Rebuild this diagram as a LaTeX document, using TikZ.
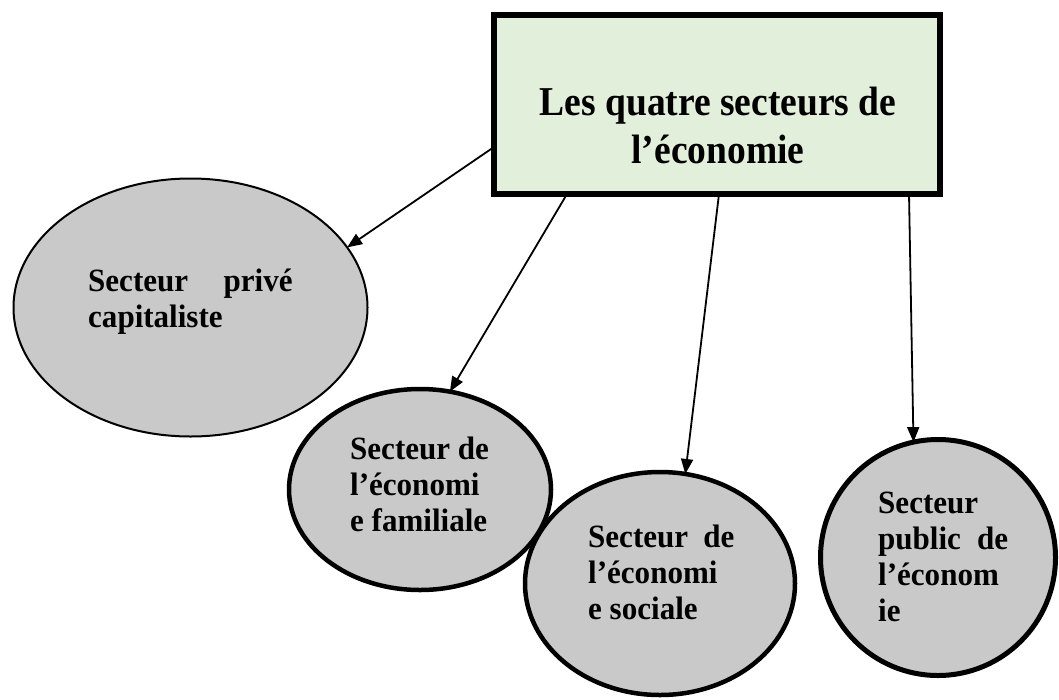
\documentclass[tikz,border=0pt]{standalone}
\usepackage{fontspec}
\setmainfont{Liberation Serif}
\usetikzlibrary{shapes.geometric,arrows.meta}
\definecolor{secgray}{HTML}{C9C9C9}
\definecolor{boxgreen}{HTML}{E2EFDA}
\newcommand\sectfont{\bfseries\fontsize{32.5}{36}\selectfont}
\newcommand\titfont{\bfseries\fontsize{41}{48}\selectfont}
\newcommand\sectbox[2]{\scalebox{0.955}[1]{\parbox[t]{#1}{\sectfont #2}}}
\begin{document}
\begin{tikzpicture}[x=1pt,y=-1pt,
  sector/.style={ellipse, draw=black, fill=secgray, inner sep=0pt, outer sep=0pt, line width=4.5pt},
  conn/.style={line width=1.8pt, -{Triangle[length=15pt,width=12pt]}},
  lbl/.style={anchor=base west, inner sep=0pt}
]
\useasboundingbox (0,0) rectangle (1059,699);

% sector ellipses
\node[sector, line width=2pt, minimum width=354pt, minimum height=258pt] (prive) at (190.5,307.5) {};
\node[sector, minimum width=262pt, minimum height=201pt] (famil) at (420,489.5) {};
\node[sector, minimum width=270pt, minimum height=223pt] (social) at (660,583.5) {};
\node[sector, line width=5pt, minimum width=235pt, minimum height=236pt] (public) at (938,557.5) {};

% connector start points on the box border
\coordinate (s1) at (494,147);
\coordinate (s2) at (567,194);
\coordinate (s3) at (719,194);
\coordinate (s4) at (909,194);

\draw[conn] (s1) -- (prive.21);
\draw[conn] (s2) -- (famil.73);
\draw[conn] (s3) -- (social.77);
\draw[conn] (s4) -- (public.102);

% title box
\node[draw=black, line width=6pt, fill=boxgreen, minimum width=446pt, minimum height=179pt, inner sep=0pt, outer sep=0pt] (box) at (717,104.5) {};
\node[anchor=base, inner sep=0pt] (title) at (718,115) {\scalebox{0.915}[1]{\parbox[t]{470pt}{\centering\titfont Les quatre secteurs de\\l’économie}}};

% sector texts
\node[lbl] (tprive) at (88,291) {\sectbox{214pt}{Secteur\hfill privé\\capitaliste}};
\node[lbl] (tfamil) at (350,459) {\sectbox{160pt}{Secteur de\\l’économi\\e familiale}};
\node[lbl] (tsocial) at (588,547) {\sectbox{153pt}{Secteur\hfill de\\l’économi\\e sociale}};
\node[lbl] (tpublic) at (878,513) {\sectbox{136pt}{Secteur\\public\hfill de\\l’économ\\ie}};
\end{tikzpicture}
\end{document}
